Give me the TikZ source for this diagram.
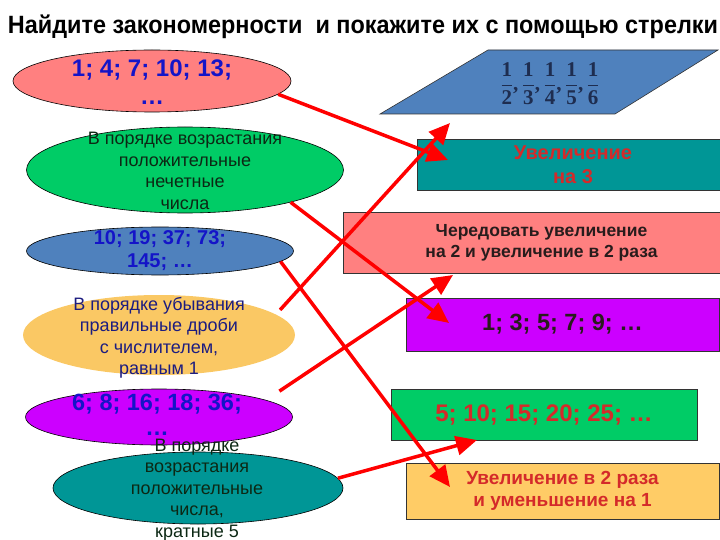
\documentclass[tikz,border=0pt]{standalone}
\usepackage{fontspec}
\setmainfont{Liberation Sans}
\newfontfamily\fracfont{Liberation Serif}
\usepackage{amsmath}
\usepackage{graphicx}
\usepackage{xcolor}
\usetikzlibrary{shapes.geometric,arrows.meta}
\definecolor{ovpink}{RGB}{255,128,128}
\definecolor{ovgreen}{RGB}{0,204,102}
\definecolor{ovblue}{RGB}{79,129,189}
\definecolor{ovorange}{RGB}{250,200,100}
\definecolor{ovpurple}{RGB}{204,0,255}
\definecolor{ovteal}{RGB}{0,150,150}
\definecolor{bxorange}{RGB}{255,204,102}
\definecolor{numblue}{RGB}{20,20,200}
\definecolor{txgreen}{RGB}{12,40,20}
\definecolor{txnavy}{RGB}{28,28,128}
\definecolor{txred}{RGB}{212,42,42}
\definecolor{txdark}{RGB}{40,28,28}
\definecolor{txfrac}{RGB}{30,45,80}
\newcommand{\fr}[1]{\frac{\mbox{\fracfont\bfseries 1}}{\mbox{\fracfont\bfseries #1}}}
\newcommand{\cm}{\mbox{\fracfont\bfseries ,}\,}

\begin{document}
\begin{tikzpicture}[x=1pt,y=-1pt,
    oval/.style={ellipse, draw=black, line width=0.6pt, inner sep=0pt},
    box/.style={rectangle, draw=black!80, line width=0.6pt, inner sep=0pt, align=center},
    numtxt/.style={align=center, text=numblue},
    wordtxt/.style={align=center, font=\fontsize{18}{21.5}\selectfont},
    arr/.style={draw=red, line width=3.5pt, -{Triangle[length=21pt,width=19pt]}}]
  \useasboundingbox (0,0) rectangle (720,540);

  % title
  \node (title) at (363,27) {\resizebox{710pt}{\height}{\bfseries\fontsize{25}{28}\selectfont Найдите закономерности\ \ и покажите их с помощью стрелки}};

  % left column: ovals
  \node[oval, fill=ovpink, minimum width=278, minimum height=62] (e1) at (152,81) {};
  \node[numtxt, font=\bfseries\fontsize{24}{28}\selectfont] (t1) at (152,82) {1; 4; 7; 10; 13;\\…};

  \node[oval, fill=ovgreen, minimum width=317, minimum height=86] (e2) at (185,170) {};
  \node[wordtxt, text=txgreen] (t2) at (185,171) {В порядке возрастания\\положительные\\нечетные\\числа};

  \node[oval, fill=ovblue, minimum width=267, minimum height=48] (e3) at (160,251) {};
  \node[numtxt, font=\bfseries\fontsize{20}{23}\selectfont] (t3) at (160,251) {10; 19; 37; 73;\\145; …};

  \node[oval, draw=none, fill=ovorange, minimum width=272, minimum height=80] (e4) at (159,335) {};
  \node[wordtxt, text=txnavy] (t4) at (159,338) {В порядке убывания\\правильные дроби\\с числителем,\\равным 1};

  \node[oval, fill=ovpurple, minimum width=267, minimum height=56] (e5) at (159,417) {};
  \node[numtxt, font=\bfseries\fontsize{23.5}{25}\selectfont] (t5) at (157,415) {6; 8; 16; 18; 36;\\…};

  \node[oval, fill=ovteal, minimum width=290, minimum height=72] (e6) at (198,488) {};
  \node[wordtxt, text=txgreen] (t6) at (197,490) {В порядке\\возрастания\\положительные\\числа,\\кратные 5};

  % right column
  \coordinate (P1) at (380,114);
  \coordinate (P2) at (615,114);
  \coordinate (P3) at (718,50);
  \coordinate (P4) at (488,50);
  \draw[fill=ovblue, draw=black!80, line width=0.6pt] (P1) -- (P2) -- (P3) -- (P4) -- cycle;
  \node[text=txfrac, font=\fontsize{21}{24}\selectfont] (fr) at (550,84)
    {$\displaystyle\fr{2}\cm\fr{3}\cm\fr{4}\cm\fr{5}\cm\fr{6}$};

  \node[box, fill=ovteal, minimum width=303, minimum height=51, text=txred,
        font=\bfseries\fontsize{20}{24}\selectfont] (r1) at (568.5,164.5) {\hspace*{9pt}Увеличение\\\hspace*{9pt}на 3};
  \node[box, fill=ovpink, minimum width=377, minimum height=61, text=txdark,
        font=\bfseries\fontsize{17.5}{21}\selectfont] (r2) at (531.5,242.5) {\hspace*{20pt}Чередовать увеличение\\\hspace*{20pt}на 2 и увеличение в 2 раза};
  \node[box, fill=ovpurple, minimum width=313, minimum height=53, text=txdark,
        font=\bfseries\fontsize{23.5}{27}\selectfont] (r3) at (562.5,324.5) {1; 3; 5; 7; 9; …};
  \node[box, fill=ovgreen, minimum width=306, minimum height=51, text=txred,
        font=\bfseries\fontsize{24}{27}\selectfont] (r4) at (544,414.5) {5; 10; 15; 20; 25; …};
  \node[box, fill=bxorange, minimum width=313, minimum height=56, text=txred,
        font=\bfseries\fontsize{19}{22}\selectfont] (r5) at (562.5,491) {Увеличение в 2 раза\\и уменьшение на 1};

  % arrow tips
  \coordinate (ta) at (448,160);
  \coordinate (tb) at (449,323);
  \coordinate (tc) at (450,487);
  \coordinate (td) at (450,123);
  \coordinate (te) at (453,275);
  \coordinate (tf) at (477,440);

  \draw[arr] (e1.-6.5) -- (ta);
  \draw[arr] (e2.-17) -- (tb);
  \draw[arr] (e3.-5) -- (tc);
  \draw[arr, shorten <=6pt] (e4.10) -- (td);
  \draw[arr, shorten <=16pt] (e5.9) -- (te);
  \draw[arr] (e6.4) -- (tf);
\end{tikzpicture}
\end{document}
